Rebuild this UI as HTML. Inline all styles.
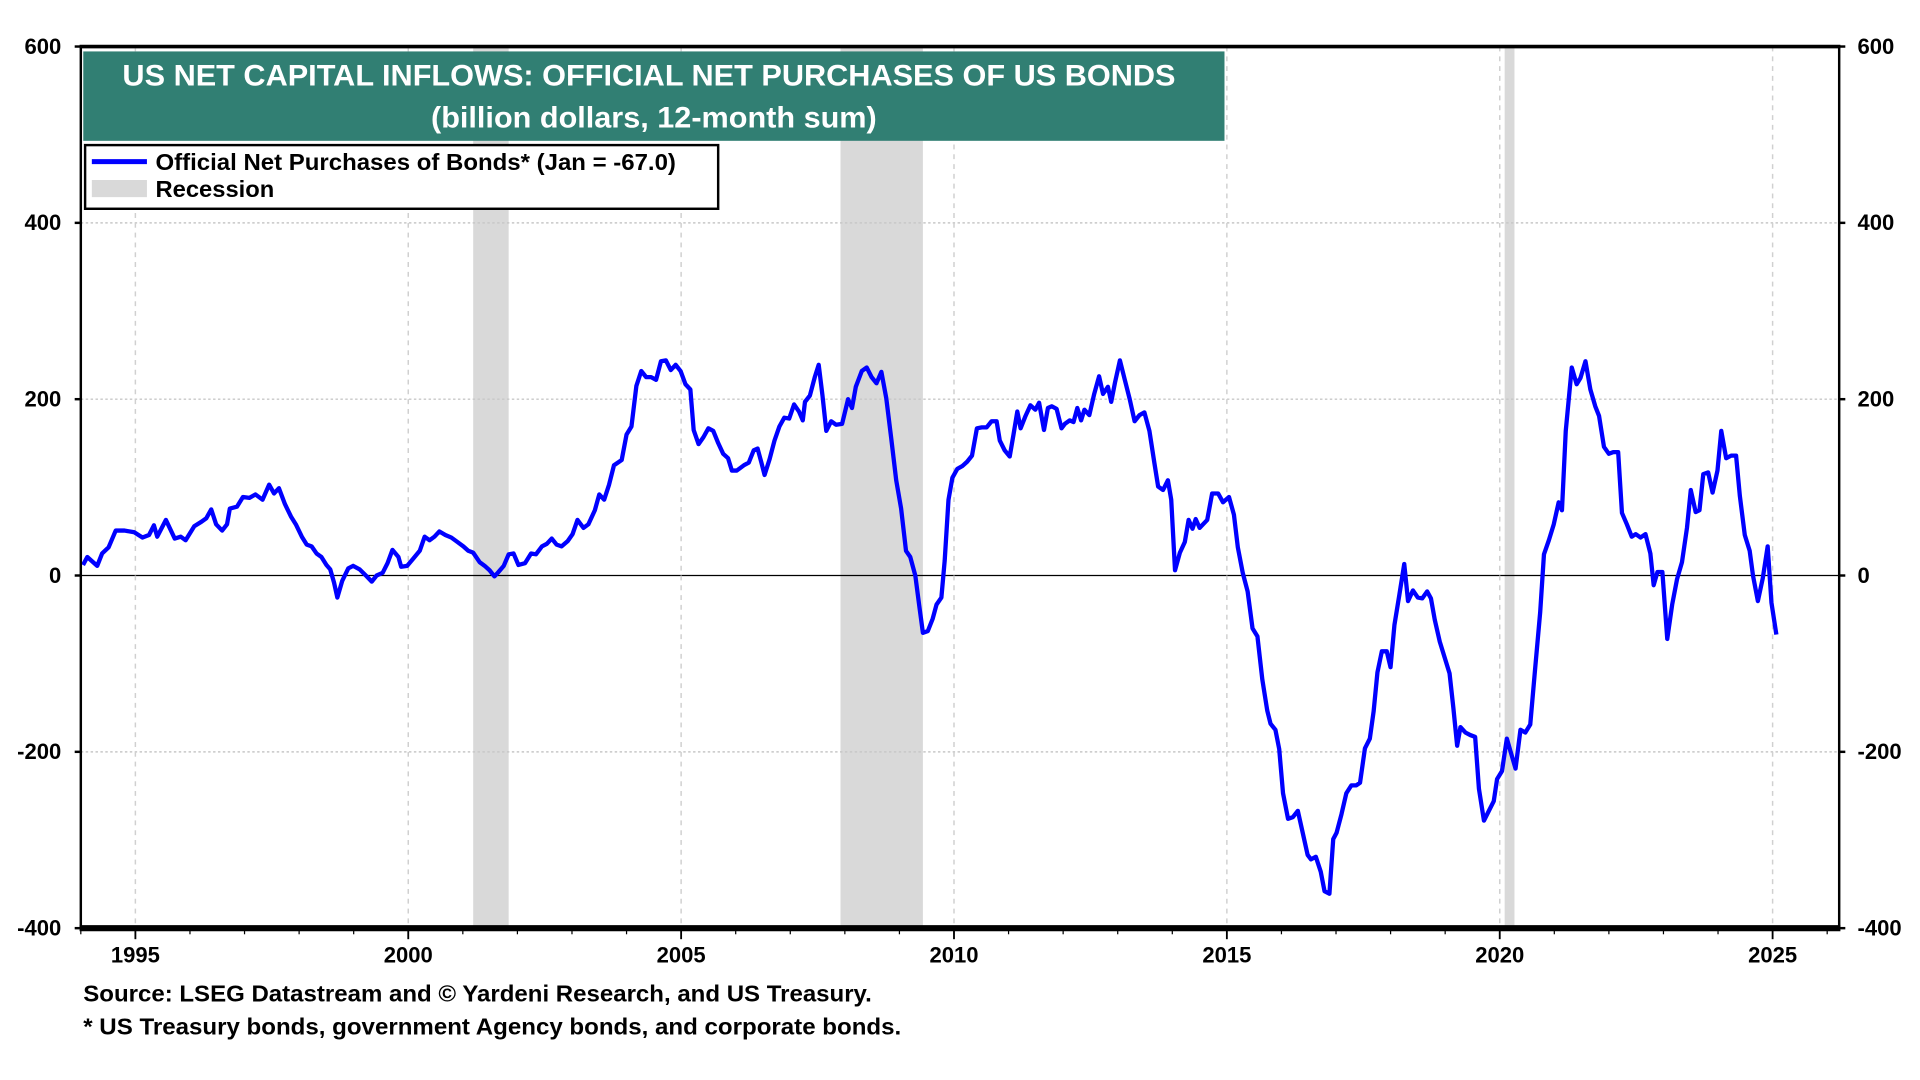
<!DOCTYPE html>
<html><head><meta charset="utf-8"><style>
html,body{margin:0;padding:0;background:#fff;}
svg{display:block;font-family:"Liberation Sans",Arial,sans-serif;font-weight:bold;}
</style></head><body>
<svg id="chart" width="1920" height="1080" viewBox="0 0 1568 882" preserveAspectRatio="none" xmlns="http://www.w3.org/2000/svg">
<g id="bg"></g>
<g id="grid"></g>
<g id="series"></g>
<g id="axes"></g>
<rect x="68" y="42" width="932" height="73" fill="#317f73"/>
<text x="100" y="70" fill="#fff" font-size="24" textLength="860" lengthAdjust="spacingAndGlyphs">US NET CAPITAL INFLOWS: OFFICIAL NET PURCHASES OF US BONDS</text>
<text x="352" y="104" fill="#fff" font-size="24" textLength="364" lengthAdjust="spacingAndGlyphs">(billion dollars, 12-month sum)</text>
<g>
<rect x="69.5" y="118.5" width="517" height="52" fill="#fff" stroke="#000" stroke-width="2"/>
<line x1="75" y1="132" x2="120" y2="132" stroke="#0000ff" stroke-width="4"/>
<text x="127" y="139" font-size="19" textLength="425" lengthAdjust="spacingAndGlyphs">Official Net Purchases of Bonds* (Jan = -67.0)</text>
<rect x="75" y="147" width="45" height="14" fill="#d9d9d9"/>
<text x="127" y="161" font-size="19" textLength="97" lengthAdjust="spacingAndGlyphs">Recession</text>
</g>
<text x="68" y="818" font-size="19" textLength="644" lengthAdjust="spacingAndGlyphs">Source: LSEG Datastream and © Yardeni Research, and US Treasury.</text>
<text x="68" y="845" font-size="19" textLength="668" lengthAdjust="spacingAndGlyphs">* US Treasury bonds, government Agency bonds, and corporate bonds.</text>
</svg>
<script>
const years = [1994.04,1994.12,1994.30,1994.39,1994.51,1994.64,1994.80,1994.98,1995.13,1995.25,1995.34,1995.40,1995.56,1995.72,1995.83,1995.92,1996.08,1996.21,1996.30,1996.39,1996.48,1996.59,1996.68,1996.73,1996.86,1996.97,1997.09,1997.20,1997.33,1997.45,1997.54,1997.63,1997.74,1997.85,1997.94,1998.05,1998.14,1998.23,1998.32,1998.41,1998.50,1998.57,1998.64,1998.70,1998.79,1998.90,1998.99,1999.11,1999.24,1999.33,1999.42,1999.53,1999.62,1999.71,1999.82,1999.87,1999.98,2000.09,2000.21,2000.30,2000.39,2000.48,2000.57,2000.68,2000.79,2000.90,2001.01,2001.10,2001.19,2001.31,2001.40,2001.49,2001.58,2001.64,2001.75,2001.84,2001.93,2002.02,2002.14,2002.25,2002.34,2002.45,2002.54,2002.63,2002.72,2002.81,2002.92,2003.01,2003.10,2003.21,2003.30,2003.42,2003.50,2003.59,2003.68,2003.77,2003.91,2004.00,2004.09,2004.18,2004.27,2004.36,2004.45,2004.54,2004.63,2004.72,2004.81,2004.90,2004.99,2005.08,2005.17,2005.23,2005.32,2005.41,2005.50,2005.59,2005.68,2005.77,2005.86,2005.93,2006.02,2006.15,2006.24,2006.33,2006.40,2006.47,2006.53,2006.62,2006.71,2006.80,2006.89,2006.98,2007.07,2007.16,2007.23,2007.27,2007.36,2007.45,2007.52,2007.59,2007.66,2007.75,2007.84,2007.95,2008.06,2008.13,2008.20,2008.31,2008.40,2008.49,2008.58,2008.67,2008.76,2008.85,2008.94,2009.03,2009.12,2009.20,2009.29,2009.36,2009.43,2009.52,2009.61,2009.68,2009.77,2009.83,2009.90,2009.97,2010.06,2010.15,2010.24,2010.33,2010.42,2010.51,2010.60,2010.69,2010.78,2010.84,2010.93,2011.02,2011.09,2011.16,2011.22,2011.31,2011.40,2011.49,2011.56,2011.65,2011.72,2011.79,2011.88,2011.97,2012.03,2012.12,2012.19,2012.26,2012.33,2012.39,2012.48,2012.57,2012.66,2012.73,2012.82,2012.88,2012.95,2013.04,2013.13,2013.22,2013.31,2013.40,2013.49,2013.58,2013.67,2013.74,2013.83,2013.92,2013.98,2014.05,2014.14,2014.23,2014.30,2014.37,2014.43,2014.50,2014.64,2014.73,2014.84,2014.93,2015.04,2015.13,2015.20,2015.29,2015.38,2015.47,2015.56,2015.65,2015.74,2015.80,2015.89,2015.96,2016.03,2016.12,2016.21,2016.30,2016.39,2016.48,2016.54,2016.63,2016.72,2016.79,2016.88,2016.95,2017.01,2017.10,2017.19,2017.28,2017.37,2017.44,2017.53,2017.62,2017.69,2017.76,2017.84,2017.93,2018.00,2018.07,2018.16,2018.25,2018.32,2018.41,2018.50,2018.58,2018.67,2018.74,2018.81,2018.90,2018.99,2019.08,2019.15,2019.22,2019.28,2019.37,2019.46,2019.55,2019.62,2019.71,2019.80,2019.89,2019.95,2020.04,2020.13,2020.20,2020.29,2020.38,2020.47,2020.56,2020.65,2020.74,2020.81,2020.90,2020.99,2021.08,2021.14,2021.21,2021.32,2021.41,2021.48,2021.57,2021.66,2021.75,2021.82,2021.91,2022.00,2022.08,2022.17,2022.24,2022.33,2022.42,2022.49,2022.58,2022.67,2022.76,2022.82,2022.89,2022.98,2023.07,2023.16,2023.25,2023.34,2023.43,2023.50,2023.59,2023.66,2023.73,2023.82,2023.90,2023.99,2024.06,2024.15,2024.24,2024.33,2024.40,2024.49,2024.58,2024.64,2024.73,2024.82,2024.91,2024.98,2025.07];
const values = [12,21,11,25,32,51,51,49,43,46,57,44,63,42,44,40,56,61,65,75,58,51,58,76,78,89,88,92,86,103,93,99,81,67,58,44,35,33,25,21,12,7,-8,-25,-6,8,11,7,-1,-7,0,3,14,29,21,10,11,19,28,44,40,44,50,46,43,38,33,28,26,15,11,6,-1,3,11,24,25,12,14,25,24,33,36,42,35,33,39,47,63,54,58,74,92,86,103,125,131,160,169,215,232,225,225,222,243,244,233,239,232,217,211,165,149,157,167,164,150,138,133,119,119,125,128,142,144,128,114,132,153,169,179,178,194,186,176,197,204,225,239,204,164,175,171,172,200,190,214,232,236,225,218,231,201,156,108,76,28,21,0,-33,-65,-63,-49,-33,-25,17,86,111,121,124,129,136,167,168,168,175,175,153,142,135,160,186,167,181,193,188,196,165,190,192,189,167,172,176,174,190,176,188,182,206,226,206,214,197,219,244,222,200,175,182,185,164,128,101,97,108,86,6,26,38,63,53,64,54,63,93,93,83,89,69,32,3,-18,-60,-69,-118,-153,-168,-175,-197,-247,-276,-274,-267,-292,-317,-322,-319,-336,-358,-361,-299,-292,-271,-247,-238,-238,-235,-196,-185,-154,-110,-86,-86,-104,-56,-22,13,-29,-17,-25,-26,-18,-26,-50,-75,-93,-111,-150,-193,-172,-178,-181,-183,-242,-278,-267,-256,-231,-222,-185,-200,-219,-175,-178,-169,-104,-42,24,40,58,83,74,164,236,217,224,243,211,192,181,146,138,140,140,71,58,44,47,43,47,25,-11,4,4,-72,-33,-4,15,54,97,72,74,115,117,94,119,164,133,136,136,90,46,28,0,-29,-3,33,-31,-67];
const recStart = [2001.19, 2007.92, 2020.09];
const recEnd = [2001.84, 2009.43, 2020.27];
const yTicks = [600, 400, 200, 0, -200, -400];
const xTickYears = [1995, 2000, 2005, 2010, 2015, 2020, 2025];

const NS = "http://www.w3.org/2000/svg";
const L = 66, R = 1502, T = 38, B = 758;
const X0 = 1994.0, X1 = 2026.22, Y0 = -400, Y1 = 600;
function xs(v){ return L + (v - X0) / (X1 - X0) * (R - L); }
function ys(v){ return B - (v - Y0) / (Y1 - Y0) * (B - T); }
function mk(tag, attrs, parent){
  const e = document.createElementNS(NS, tag);
  for (const k in attrs) e.setAttribute(k, attrs[k]);
  parent.appendChild(e); return e;
}
const bg = document.getElementById('bg'), grid = document.getElementById('grid'),
      ser = document.getElementById('series'), ax = document.getElementById('axes');

for (let i = 0; i < recStart.length; i++) {
  const r = mk('rect', {x: xs(recStart[i]), y: T, width: xs(recEnd[i]) - xs(recStart[i]), height: B - T, fill: '#d9d9d9'}, bg);
  
  
}
yTicks.forEach(t => {
  if (t === 600 || t === -400) return;
  const y = ys(t);
  if (t === 0) {
    const l = mk('line', {x1: L, x2: R, y1: y, y2: y, stroke: '#000', 'stroke-width': 1}, grid);
    
    
  } else {
    const l = mk('line', {x1: L, x2: R, y1: y, y2: y, stroke: '#c8c8c8', 'stroke-width': 1.2, 'stroke-dasharray': '2,2'}, grid);
    
    
  }
});
xTickYears.forEach(yr => {
  const x = xs(yr);
  const l = mk('line', {x1: x, x2: x, y1: T, y2: B, stroke: '#d0d0d0', 'stroke-width': 1.2, 'stroke-dasharray': '4,4'}, grid);
  
  
});

let d = '';
for (let i = 0; i < years.length; i++) d += (i ? 'L' : 'M') + xs(years[i]).toFixed(1) + ',' + ys(values[i]).toFixed(1);
const p = mk('path', {d: d, fill: 'none', stroke: '#0000ff', 'stroke-width': 3.5, 'stroke-linejoin': 'round'}, ser);



mk('line', {x1: L - 1, x2: R + 1, y1: T, y2: T, stroke: '#000', 'stroke-width': 3}, ax);
mk('line', {x1: L, x2: L, y1: T, y2: B, stroke: '#000', 'stroke-width': 2}, ax);
mk('line', {x1: R, x2: R, y1: T, y2: B, stroke: '#000', 'stroke-width': 2}, ax);
const bl = mk('line', {x1: L - 1, x2: R + 1, y1: B, y2: B, stroke: '#000', 'stroke-width': 5}, ax);



yTicks.forEach(t => {
  const y = ys(t);
  mk('line', {x1: L - 5, x2: L, y1: y, y2: y, stroke: '#000', 'stroke-width': 2}, ax);
  mk('line', {x1: R, x2: R + 5, y1: y, y2: y, stroke: '#000', 'stroke-width': 2}, ax);
  const a = mk('text', {x: 50, y: y + 6, 'font-size': 18, 'text-anchor': 'end'}, ax);
  a.textContent = t;
  
  
  const b = mk('text', {x: 1517, y: y + 6, 'font-size': 18, 'text-anchor': 'start'}, ax);
  b.textContent = t;
  
  
});
for (let yr = 1994; yr <= 2026; yr++) {
  const x = xs(yr);
  mk('line', {x1: x, x2: x, y1: B, y2: B + 5, stroke: '#000', 'stroke-width': 1}, ax);
}
xTickYears.forEach(yr => {
  const x = xs(yr);
  mk('line', {x1: x, x2: x, y1: B, y2: B + 9, stroke: '#000', 'stroke-width': 1.5}, ax);
  const t = mk('text', {x: x, y: 786, 'font-size': 18, 'text-anchor': 'middle'}, ax);
  t.textContent = yr;
  
  
});
</script>
</body></html>
